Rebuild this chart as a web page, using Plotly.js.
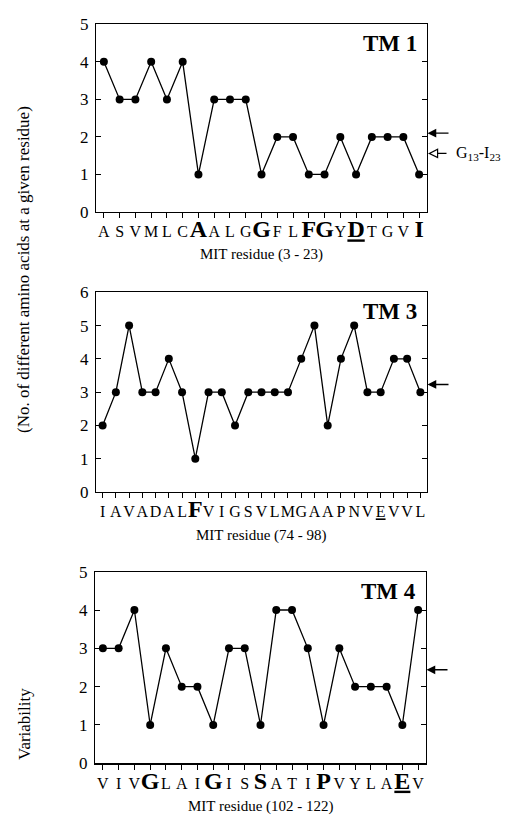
<!DOCTYPE html>
<html><head><meta charset="utf-8">
<script src="https://cdn.plot.ly/plotly-3.0.1.min.js"></script>
<style>html,body{margin:0;padding:0;background:#fff;}#chart{width:510px;height:821px;}</style>
</head><body><div id="chart"></div>
<script>
// ---- data ----
const tm1Residues = ['A','S','V','M','L','C','A','A','L','G','G','F','L','F','G','Y','D','T','G','V','I'];
const tm1Values   = [4,3,3,4,3,4,1,3,3,3,1,2,2,1,1,2,1,2,2,2,1];
const tm1Big      = [6,10,13,14,16,20];
const tm1Under    = [16];
const tm1Title    = 'MIT residue (3 - 23)';
const tm1Label    = 'TM 1';
const tm1Arrow    = 2.1;
const tm1OpenArrow = 1.56;
const tm1OpenLabel = 'G<sub>13</sub>-I<sub>23</sub>';

const tm3Residues = ['I','A','V','A','D','A','L','F','V','I','G','S','V','L','M','G','A','A','P','N','V','E','V','V','L'];
const tm3Values   = [2,3,5,3,3,4,3,1,3,3,2,3,3,3,3,4,5,2,4,5,3,3,4,4,3];
const tm3Big      = [7];
const tm3Under    = [21];
const tm3Title    = 'MIT residue (74 - 98)';
const tm3Label    = 'TM 3';
const tm3Arrow    = 3.23;

const tm4Residues = ['V','I','V','G','L','A','I','G','I','S','S','A','T','I','P','V','Y','L','A','E','V'];
const tm4Values   = [3,3,4,1,3,2,2,1,3,3,1,4,4,3,1,3,2,2,2,1,4];
const tm4Big      = [3,7,10,14,19];
const tm4Under    = [19];
const tm4Title    = 'MIT residue (102 - 122)';
const tm4Label    = 'TM 4';
const tm4Arrow    = 2.44;

const yTitleMain = '(No. of different amino acids at a given residue)';
const yTitleWord = 'Variability';

// ---- build ----
const W = 510, H = 821;
const FONT = 'Liberation Serif, Times New Roman, serif';
function px2paperY(py){ return 1 - py / H; }

function tickText(res, big, under){
  return res.map((r, i) => {
    let t = r;
    if (under.includes(i)) t = '<span style="text-decoration:underline">' + t + '</span>';
    if (big.includes(i)) t = '<b><span style="font-size:24px">' + t + '</span></b>';
    return t;
  });
}

const panels = [
  {res: tm1Residues, vals: tm1Values, big: tm1Big, under: tm1Under, title: tm1Title, label: tm1Label, arrow: tm1Arrow, ymax: 5,
   xd: [96, 427], yd: [24.3, 212]},
  {res: tm3Residues, vals: tm3Values, big: tm3Big, under: tm3Under, title: tm3Title, label: tm3Label, arrow: tm3Arrow, ymax: 6,
   xd: [96, 427], yd: [292.3, 492]},
  {res: tm4Residues, vals: tm4Values, big: tm4Big, under: tm4Under, title: tm4Title, label: tm4Label, arrow: tm4Arrow, ymax: 5,
   xd: [95, 426], yd: [571.7, 763.3]},
];

const traces = [];
const layout = {
  width: W, height: H,
  margin: {l: 0, r: 0, t: 0, b: 0},
  paper_bgcolor: '#fff', plot_bgcolor: '#fff',
  showlegend: false,
  font: {family: FONT, color: '#000'},
  annotations: [],
};

panels.forEach((p, k) => {
  const n = k === 0 ? '' : String(k + 1);
  const xa = 'xaxis' + n, ya = 'yaxis' + n;
  const xr = 'x' + n, yr = 'y' + n;
  const idx = p.res.map((_, i) => i);
  traces.push({
    type: 'scatter', mode: 'lines+markers', x: idx, y: p.vals,
    xaxis: xr, yaxis: yr, cliponaxis: false,
    line: {color: '#000', width: 1.3},
    marker: {color: '#000', size: 8},
    hoverinfo: 'skip'
  });
  layout[xa] = {
    domain: [p.xd[0] / W, p.xd[1] / W],
    anchor: yr,
    range: [-0.5, p.res.length - 0.5],
    tickmode: 'array', tickvals: idx, ticktext: tickText(p.res, p.big, p.under),
    tickangle: 0,
    ticks: 'outside', ticklen: 5, tickwidth: 1, tickcolor: '#000',
    tickfont: {family: FONT, size: 16, color: '#000'},
    showline: true, linecolor: '#000', linewidth: 1.2, mirror: true,
    showgrid: false, zeroline: false, fixedrange: true
  };
  layout[ya] = {
    domain: [px2paperY(p.yd[1]), px2paperY(p.yd[0])],
    anchor: xr,
    range: [0, p.ymax], dtick: 1, tick0: 0,
    ticks: 'inside', ticklen: 5, tickwidth: 1, tickcolor: '#000',
    tickfont: {family: FONT, size: 17, color: '#000'},
    ticklabelstandoff: 3,
    showline: true, linecolor: '#000', linewidth: 1.2, mirror: 'ticks',
    showgrid: false, zeroline: false, fixedrange: true
  };
  // panel label
  layout.annotations.push({
    xref: xr + ' domain', yref: yr + ' domain', x: 1, y: 1, xanchor: 'right', yanchor: 'top',
    xshift: -8, yshift: -5, showarrow: false,
    text: '<b>' + p.label + '</b>', font: {family: FONT, size: 23, color: '#000'}
  });
  // x title
  layout.annotations.push({
    xref: xr + ' domain', yref: yr + ' domain', x: 0.5, y: 0, xanchor: 'center', yanchor: 'middle',
    yshift: -43, showarrow: false,
    text: p.title, font: {family: FONT, size: 15, color: '#000'}
  });
  // filled arrow
  layout.annotations.push({
    xref: xr, yref: yr, x: p.res.length - 0.5, y: p.arrow,
    ax: 23, ay: 0, axref: 'pixel', ayref: 'pixel',
    showarrow: true, arrowhead: 2, arrowsize: 1.25, arrowwidth: 1.4, arrowcolor: '#000',
    standoff: 0.5, text: ''
  });
});

// open arrow for TM1 (G13-I23): black triangle with white inner triangle
const openEdge = tm1Residues.length - 0.5;
layout.annotations.push({
  xref: 'x', yref: 'y', x: openEdge, y: tm1OpenArrow,
  ax: 21, ay: 0, axref: 'pixel', ayref: 'pixel',
  showarrow: true, arrowhead: 2, arrowsize: 1.7, arrowwidth: 1.2, arrowcolor: '#000', standoff: 1, text: ''
});
layout.annotations.push({
  xref: 'x', yref: 'y', x: openEdge, y: tm1OpenArrow,
  ax: 9, ay: 0, axref: 'pixel', ayref: 'pixel',
  showarrow: true, arrowhead: 2, arrowsize: 2.52, arrowwidth: 0.5, arrowcolor: '#fff', standoff: 3.7, text: ''
});
layout.annotations.push({
  xref: 'paper', yref: 'y', x: 454 / W, y: tm1OpenArrow, xanchor: 'left', yanchor: 'middle',
  showarrow: false, text: tm1OpenLabel, font: {family: FONT, size: 16, color: '#000'}
});

// y titles
layout.annotations.push({
  xref: 'paper', yref: 'paper', x: 24 / W, y: px2paperY(270), xanchor: 'center', yanchor: 'middle',
  textangle: -90, showarrow: false, text: yTitleMain, font: {family: FONT, size: 17, color: '#000'}
});
layout.annotations.push({
  xref: 'paper', yref: 'paper', x: 24 / W, y: px2paperY(724), xanchor: 'center', yanchor: 'middle',
  textangle: -90, showarrow: false, text: yTitleWord, font: {family: FONT, size: 17, color: '#000'}
});

Plotly.newPlot('chart', traces, layout, {displayModeBar: false, staticPlot: true});
</script></body></html>
